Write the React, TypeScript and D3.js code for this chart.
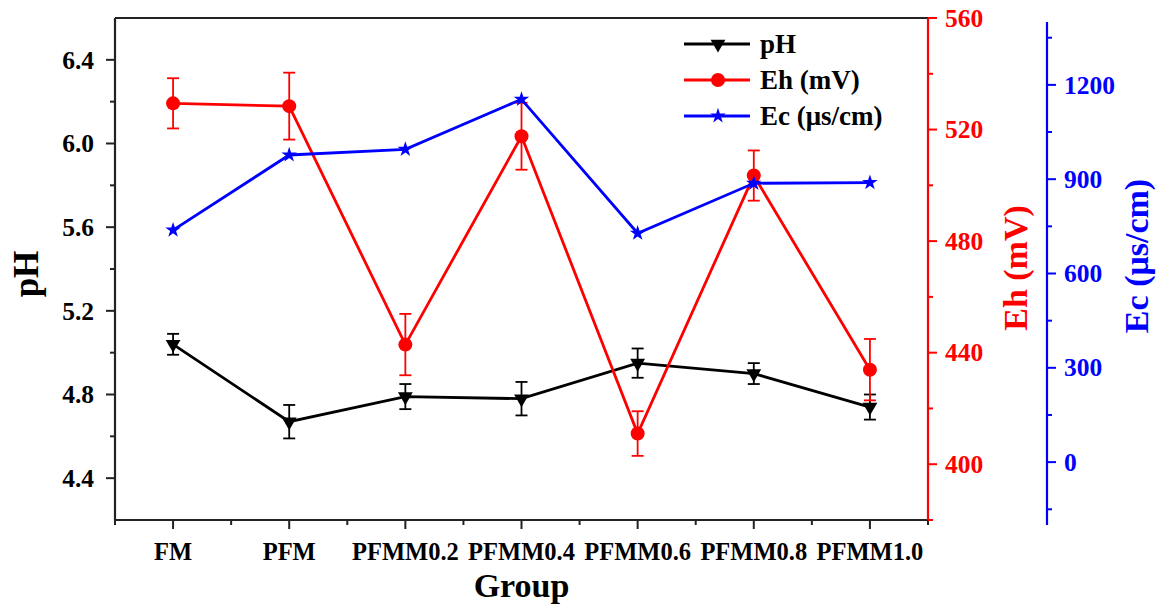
import React from 'react';
import * as d3 from 'd3';

const categories = ['FM', 'PFM', 'PFMM0.2', 'PFMM0.4', 'PFMM0.6', 'PFMM0.8', 'PFMM1.0'];
const phValues = [5.04, 4.67, 4.79, 4.78, 4.95, 4.9, 4.74];
const phErrors = [0.05, 0.08, 0.06, 0.08, 0.07, 0.05, 0.06];
const ehValues = [529.4, 528.4, 442.9, 517.6, 411.0, 503.5, 433.9];
const ehErrors = [9, 12, 11, 12, 8, 9, 11];
const ecValues = [738, 977, 995, 1154, 728, 887, 889];

const phTicks = [4.4, 4.8, 5.2, 5.6, 6.0, 6.4];
const phMinor = [4.6, 5.0, 5.4, 5.8, 6.2];
const ehTicks = [400, 440, 480, 520, 560];
const ehMinor = [380, 420, 460, 500, 540];
const ecTicks = [0, 300, 600, 900, 1200];
const ecMinor = [-150, 150, 450, 750, 1050, 1350];

const FONT = '"Liberation Serif", "Times New Roman", serif';
const RED = '#ff0000';
const BLUE = '#0000ff';

const App = () => {
  const width = 1163, height = 607;
  const left = 115, right = 928, top = 18, bottom = 520;
  const ecAxisX = 1047;

  const x = d3.scalePoint<string>().domain(categories).range([left, right]).padding(0.5);
  const step = x.step();
  const yPh = d3.scaleLinear().domain([4.2, 6.6]).range([bottom, top]);
  const yEh = d3.scaleLinear().domain([380, 560]).range([bottom, top]);
  const yEc = d3.scaleLinear().domain([-200, 1400]).range([525, 22]);

  const lineGen = (ys: (v: number) => number, vals: number[]) =>
    d3.line<number>().x((_, i) => x(categories[i]) as number).y(v => ys(v))(vals) || '';

  const triangle = d3.symbol().type(d3.symbolTriangle).size(95)() || '';
  const star = d3.symbol().type(d3.symbolStar).size(75)() || '';

  const boundaries = d3.range(categories.length + 1).map(i => left + i * step);

  const errorBars = (vals: number[], errs: number[], ys: (v: number) => number, color: string) =>
    vals.map((v, i) => {
      const cx = x(categories[i]) as number;
      const y1 = ys(v + errs[i]);
      const y2 = ys(v - errs[i]);
      return (
        <g key={i} stroke={color} strokeWidth={1.8}>
          <line x1={cx} x2={cx} y1={y1} y2={y2} />
          <line x1={cx - 6} x2={cx + 6} y1={y1} y2={y1} />
          <line x1={cx - 6} x2={cx + 6} y1={y2} y2={y2} />
        </g>
      );
    });

  const legend = [
    { label: 'pH', color: '#000', marker: 'tri' },
    { label: 'Eh (mV)', color: RED, marker: 'circle' },
    { label: 'Ec (μs/cm)', color: BLUE, marker: 'star' },
  ];

  const marker = (kind: string, color: string) => {
    if (kind === 'tri') return <path d={triangle} fill={color} transform="rotate(180)" />;
    if (kind === 'circle') return <circle r={7} fill={color} />;
    return <path d={star} fill={color} />;
  };

  return (
    <div style={{ position: 'absolute', left: 0, top: 0 }}>
      <svg xmlns="http://www.w3.org/2000/svg" width={width} height={height} style={{ display: 'block', background: '#fff' }}
        fontFamily={FONT} fontWeight="bold">
        {/* frame */}
        <line x1={left} x2={right} y1={top} y2={top} stroke="#222" strokeWidth={2.2} />
        <line x1={left} x2={right} y1={bottom} y2={bottom} stroke="#222" strokeWidth={2.2} />
        <line x1={left} x2={left} y1={top} y2={bottom} stroke="#222" strokeWidth={2.2} />

        {/* bottom axis */}
        {boundaries.map((bx, i) => (
          <line key={'b' + i} x1={bx} x2={bx} y1={bottom} y2={bottom + 5} stroke="#222" strokeWidth={2} />
        ))}
        {categories.map(c => (
          <g key={c} transform={`translate(${x(c)},${bottom})`}>
            <line y2={9} stroke="#222" strokeWidth={2} />
            <text y={40} textAnchor="middle" fontSize={24.5} fill="#000">{c}</text>
          </g>
        ))}
        <text x={(left + right) / 2} y={597} textAnchor="middle" fontSize={34} fill="#000">Group</text>

        {/* left pH axis */}
        {phMinor.map(t => (
          <line key={'pm' + t} x1={left - 5} x2={left} y1={yPh(t)} y2={yPh(t)} stroke="#222" strokeWidth={2} />
        ))}
        {phTicks.map(t => (
          <g key={'p' + t} transform={`translate(${left},${yPh(t)})`}>
            <line x2={-9} stroke="#222" strokeWidth={2} />
            <text x={-21} dy="0.34em" textAnchor="end" fontSize={25.5} fill="#000">{d3.format('.1f')(t)}</text>
          </g>
        ))}
        <text transform={`translate(38,274) rotate(-90)`} textAnchor="middle" fontSize={35} fill="#000">pH</text>

        {/* right Eh axis */}
        <line x1={right} x2={right} y1={top} y2={bottom} stroke={RED} strokeWidth={2.2} />
        {ehMinor.map(t => (
          <line key={'em' + t} x1={right} x2={right + 5} y1={yEh(t)} y2={yEh(t)} stroke={RED} strokeWidth={2} />
        ))}
        {ehTicks.map(t => (
          <g key={'e' + t} transform={`translate(${right},${yEh(t)})`}>
            <line x2={9} stroke={RED} strokeWidth={2} />
            <text x={17} dy="0.34em" fontSize={25.5} fill={RED}>{t}</text>
          </g>
        ))}
        <text transform={`translate(1027,268) rotate(-90)`} textAnchor="middle" fontSize={34} fill={RED}>Eh (mV)</text>

        {/* far right Ec axis */}
        <line x1={ecAxisX} x2={ecAxisX} y1={yEc(1400)} y2={yEc(-200)} stroke={BLUE} strokeWidth={2.2} />
        {ecMinor.map(t => (
          <line key={'cm' + t} x1={ecAxisX} x2={ecAxisX + 5} y1={yEc(t)} y2={yEc(t)} stroke={BLUE} strokeWidth={2} />
        ))}
        {ecTicks.map(t => (
          <g key={'c' + t} transform={`translate(${ecAxisX},${yEc(t)})`}>
            <line x2={9} stroke={BLUE} strokeWidth={2} />
            <text x={17} dy="0.34em" fontSize={25.5} fill={BLUE}>{t}</text>
          </g>
        ))}
        <text transform={`translate(1148,256) rotate(-90)`} textAnchor="middle" fontSize={34} fill={BLUE}>Ec (μs/cm)</text>

        {/* pH series */}
        <path d={lineGen(yPh, phValues)} fill="none" stroke="#000" strokeWidth={2.8} />
        {errorBars(phValues, phErrors, yPh, '#000')}
        {phValues.map((v, i) => (
          <path key={'pt' + i} d={triangle} fill="#000" transform={`translate(${x(categories[i])},${yPh(v)}) rotate(180)`} />
        ))}

        {/* Eh series */}
        <path d={lineGen(yEh, ehValues)} fill="none" stroke={RED} strokeWidth={2.8} />
        {errorBars(ehValues, ehErrors, yEh, RED)}
        {ehValues.map((v, i) => (
          <circle key={'et' + i} cx={x(categories[i])} cy={yEh(v)} r={7} fill={RED} />
        ))}

        {/* Ec series */}
        <path d={lineGen(yEc, ecValues)} fill="none" stroke={BLUE} strokeWidth={2.8} />
        {ecValues.map((v, i) => (
          <path key={'ct' + i} d={star} fill={BLUE} transform={`translate(${x(categories[i])},${yEc(v)})`} />
        ))}

        {/* legend */}
        {legend.map((l, i) => (
          <g key={l.label} transform={`translate(684,${44 + i * 36})`}>
            <line x1={0} x2={66} stroke={l.color} strokeWidth={2.8} />
            <g transform="translate(34,0)">{marker(l.marker, l.color)}</g>
            <text x={76} dy="0.34em" fontSize={27} fill="#000">{l.label}</text>
          </g>
        ))}
      </svg>
    </div>
  );
};

export default App;
